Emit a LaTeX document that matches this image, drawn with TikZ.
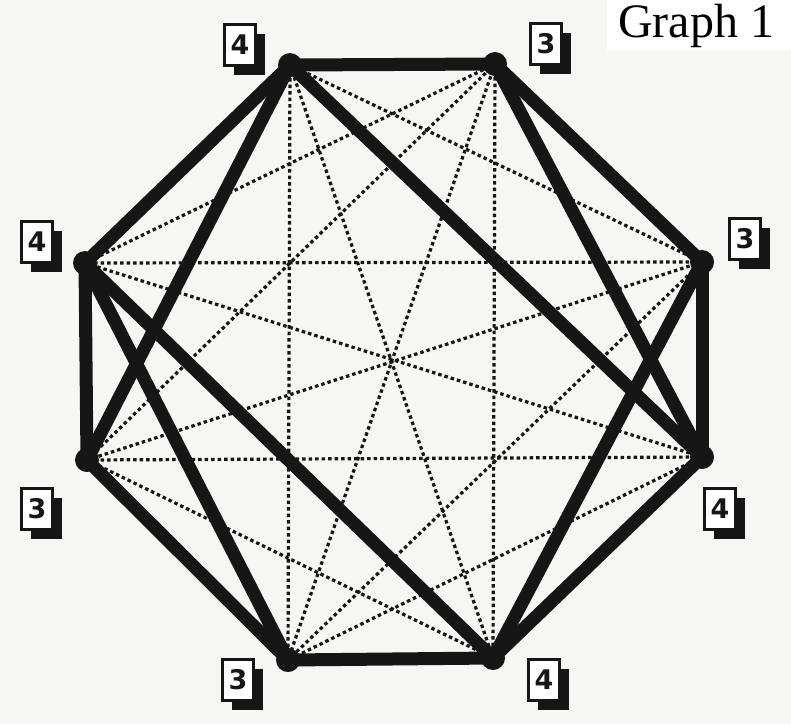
\documentclass[tikz,border=0pt]{standalone}
\usepackage{fontspec}
\usepackage{xcolor}
\usepackage{tikz}
\usetikzlibrary{shadows}
\setmainfont{Liberation Serif}
\newfontfamily\degfont{DejaVu Sans}
\definecolor{paper}{HTML}{F6F6F4}
\definecolor{ink}{HTML}{161616}

\begin{document}
\begin{tikzpicture}[x=1pt,y=-1pt]
  \tikzset{vertex/.style={circle,fill=ink,inner sep=0pt,minimum size=24pt},
    tour/.style={draw=ink,line width=13pt,line cap=round},
    chord/.style={draw=ink,line width=3.2pt,dash pattern=on 3.5pt off 3pt},
    degbox/.style={draw=ink,fill=white,line width=3.5pt,minimum width=31pt,minimum height=41pt,inner sep=0pt,text=ink,
      font=\degfont\bfseries\fontsize{27}{27}\selectfont,
      drop shadow={shadow xshift=9pt,shadow yshift=-9pt,fill=ink,opacity=1}}}

  % page
  \fill[paper] (0,0) rectangle (791,724);
  \useasboundingbox (0,0) rectangle (791,724);

  % the eight vertices
  \node[vertex] (A) at (290,65) {};
  \node[vertex] (B) at (495,64) {};
  \node[vertex] (C) at (702,262) {};
  \node[vertex] (D) at (702,457) {};
  \node[vertex] (E) at (493,658) {};
  \node[vertex] (F) at (288,660) {};
  \node[vertex] (G) at (87,460) {};
  \node[vertex] (H) at (85,263) {};

  % dotted edges
  \foreach \u/\v in {A/C,A/E,A/F,B/E,B/F,B/G,B/H,C/F,C/G,C/H,D/F,D/G,D/H,E/G}
    \draw[chord] (\u.center) -- (\v.center);

  % thick edges
  \foreach \u/\v in {A/B,A/H,A/G,A/D,B/C,B/D,C/D,C/E,D/E,E/F,E/H,F/G,F/H,G/H}
    \draw[tour] (\u.center) -- (\v.center);

  % degree labels
  \node[degbox] (degA) at (240,45) {4};
  \node[degbox] (degB) at (546,44) {3};
  \node[degbox] (degC) at (745,239) {3};
  \node[degbox] (degD) at (720,509) {4};
  \node[degbox] (degE) at (544,680) {4};
  \node[degbox] (degF) at (238,680) {3};
  \node[degbox] (degG) at (37,509) {3};
  \node[degbox] (degH) at (37,242) {4};

  % title
  \fill[white] (607,0) rectangle (791,50);
  \node[anchor=base west,inner sep=0pt,font=\fontsize{48}{48}\selectfont] (title) at (618,37) {Graph 1};
\end{tikzpicture}
\end{document}
